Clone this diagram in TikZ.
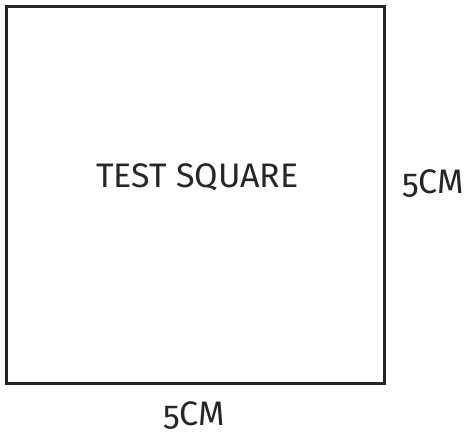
\documentclass[tikz,border=0pt]{standalone}
\usepackage{fontspec}
\setmainfont[Numbers=OldStyle]{Fira Sans}
\usepackage{tikz}
\usetikzlibrary{positioning,calc}

\begin{document}
\begin{tikzpicture}[x=1pt,y=1pt,semithick]
			\tikzstyle{every node}=[text=black!85,font=\fontsize{34}{34}\selectfont]
			\tikzstyle{box}=[draw=black!85,line width=3pt,minimum size=377.5pt,inner sep=0pt]
			\useasboundingbox (0,0) rectangle (470,437);
			\node[box]    (SQ) at (195.25,242)		{};
			\node[anchor=base]    (T) at (197.5,250)		{TEST SQUARE};
			\node[anchor=base]    (R) at (433,244)		{5CM};
			\node[anchor=base]    (B) at (194,12)		{5CM};
			
\end{tikzpicture}
\end{document}
